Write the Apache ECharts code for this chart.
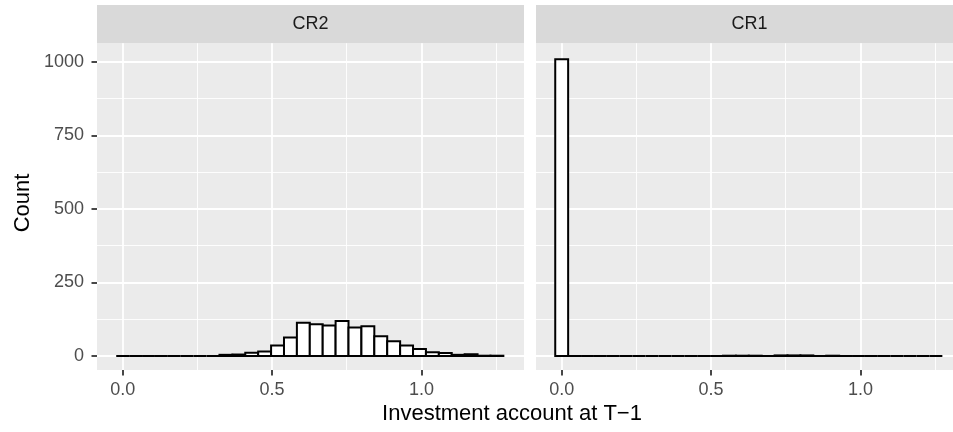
<!DOCTYPE html>
<html>
<head>
<meta charset="utf-8">
<script src="https://cdn.jsdelivr.net/npm/echarts@6/dist/echarts.min.js"></script>
<style>
html,body{margin:0;padding:0;background:#fff;}
#chart{width:953px;height:432px;}
</style>
</head>
<body>
<div id="chart"></div>
<script>
// ---- data ----
var panelNames = ["CR2", "CR1"];
var binCenters = [0.0000, 0.0432, 0.0864, 0.1296, 0.1728, 0.2160, 0.2592, 0.3024, 0.3456, 0.3888,
                  0.4320, 0.4752, 0.5184, 0.5616, 0.6048, 0.6480, 0.6912, 0.7344, 0.7776, 0.8208,
                  0.8640, 0.9072, 0.9504, 0.9936, 1.0368, 1.0800, 1.1232, 1.1664, 1.2096, 1.2528];
var binWidth = 0.0432;
var countsCR2 = [0, 0, 0, 0, 0, 0, 0, 0, 4, 5,
                 11, 15, 36, 63, 113, 108, 104, 119, 97, 101,
                 67, 50, 36, 24, 13, 10, 4, 6, 1, 1];
var countsCR1 = [1008, 0, 0, 0, 0, 0, 0, 0, 0, 0,
                 0, 0, 0, 1, 1, 1, 0, 2, 2, 2,
                 0, 1, 0, 0, 0, 0, 0, 0, 0, 0];
var xTickValues = [0, 0.5, 1.0];
var xTickLabels = ["0.0", "0.5", "1.0"];
var yTickValues = [0, 250, 500, 750, 1000];
var yTickLabels = ["0", "250", "500", "750", "1000"];
var xTitle = "Investment account at T\u22121";
var yTitle = "Count";

// ---- layout ----
var FONT = "'Liberation Sans', Arial, Helvetica, sans-serif";
var panelTop = 43.3, panelH = 326.7, panelW = 427;
var panelLefts = [97, 536];
var stripTop = 5, stripH = 38.3;
var xMin = -0.086, xMax = 1.3435;
var yMin = -47.57, yMax = 1062.5;
var pxPerX = panelW / (xMax - xMin);
var pxPerY = panelH / (yMax - yMin);
var y0px = panelTop + (yMax - 0) * pxPerY;      // pixel of count 0
var y1000px = panelTop + (yMax - 1000) * pxPerY;

function pairs(counts) {
  return binCenters.map(function (c, i) { return [c, counts[i]]; });
}

function renderBar(params, api) {
  var c = api.value(0), n = api.value(1);
  var p0 = api.coord([c - binWidth / 2, n]);
  var p1 = api.coord([c + binWidth / 2, 0]);
  return {
    type: 'rect',
    shape: { x: p0[0], y: p0[1], width: p1[0] - p0[0], height: p1[1] - p0[1] },
    style: { fill: '#ffffff', stroke: '#000000', lineWidth: 2 }
  };
}

var grids = [], xAxes = [], yAxes = [], series = [], graphics = [];
function hiddenAxis(gi, mn, mx) {
  return { type: 'value', gridIndex: gi, min: mn, max: mx, show: false };
}

panelLefts.forEach(function (left, p) {
  var x0px = left + (0 - xMin) * pxPerX;
  // background & strip
  graphics.push({ type: 'rect', z: -10, shape: { x: left, y: panelTop, width: panelW, height: panelH }, style: { fill: '#EBEBEB' } });
  graphics.push({ type: 'rect', z: -10, shape: { x: left, y: stripTop, width: panelW, height: stripH }, style: { fill: '#D9D9D9' } });
  graphics.push({ type: 'text', z: 5, x: left + panelW / 2, y: stripTop + stripH / 2,
    style: { text: panelNames[p], fill: '#1A1A1A', font: '18px ' + FONT, align: 'center', verticalAlign: 'middle' } });

  // data grid
  var gData = grids.length;
  grids.push({ left: left, top: panelTop, width: panelW, height: panelH, outerBoundsMode: 'none', containLabel: false });
  xAxes.push(hiddenAxis(gData, xMin, xMax));
  yAxes.push(hiddenAxis(gData, yMin, yMax));
  series.push({ type: 'custom', xAxisIndex: gData, yAxisIndex: gData, z: 3, silent: true,
    renderItem: renderBar, data: pairs(p === 0 ? countsCR2 : countsCR1) });

  // y gridlines (+labels on left panel)
  var gY = grids.length;
  grids.push({ left: left, top: y1000px, width: panelW, height: y0px - y1000px, outerBoundsMode: 'none', containLabel: false });
  xAxes.push(hiddenAxis(gY, 0, 1));
  yAxes.push({ type: 'value', gridIndex: gY, min: yTickValues[0], max: yTickValues[yTickValues.length - 1], interval: 250,
    axisLine: { show: false },
    axisTick: { show: p === 0, length: 5.5, lineStyle: { color: '#333333', width: 1.8 } },
    minorTick: { show: false, splitNumber: 2 },
    axisLabel: { show: p === 0, color: '#4D4D4D', fontSize: 18, fontFamily: FONT, margin: 13,
      formatter: function (v) { var i = yTickValues.indexOf(v); return i >= 0 ? yTickLabels[i] : ''; } },
    splitLine: { show: true, lineStyle: { color: '#FFFFFF', width: 1.8 } },
    minorSplitLine: { show: true, lineStyle: { color: '#FFFFFF', width: 0.9 } } });

  // x major gridlines + ticks + labels
  var gX = grids.length;
  grids.push({ left: x0px, top: panelTop, width: (xTickValues[2] - xTickValues[0]) * pxPerX, height: panelH, outerBoundsMode: 'none', containLabel: false });
  xAxes.push({ type: 'value', gridIndex: gX, min: xTickValues[0], max: xTickValues[2], interval: 0.5,
    axisLine: { show: false },
    axisTick: { show: true, length: 5.5, lineStyle: { color: '#333333', width: 1.8 } },
    axisLabel: { show: true, color: '#4D4D4D', fontSize: 18, fontFamily: FONT, margin: 11,
      formatter: function (v) { var i = xTickValues.indexOf(v); return i >= 0 ? xTickLabels[i] : ''; } },
    splitLine: { show: true, lineStyle: { color: '#FFFFFF', width: 1.8 } } });
  yAxes.push(hiddenAxis(gX, 0, 1));

  // x minor gridlines
  var gXm = grids.length;
  grids.push({ left: x0px + 0.25 * pxPerX, top: panelTop, width: 1.0 * pxPerX, height: panelH, outerBoundsMode: 'none', containLabel: false });
  xAxes.push({ type: 'value', gridIndex: gXm, min: 0.25, max: 1.25, interval: 0.5,
    axisLine: { show: false }, axisTick: { show: false }, axisLabel: { show: false },
    splitLine: { show: true, lineStyle: { color: '#FFFFFF', width: 0.9 } } });
  yAxes.push(hiddenAxis(gXm, 0, 1));
});

// axis titles
graphics.push({ type: 'text', x: 512, y: 414,
  style: { text: xTitle, fill: '#000000', font: '22px ' + FONT, align: 'center', verticalAlign: 'middle' } });
graphics.push({ type: 'text', x: 23, y: 203, rotation: Math.PI / 2,
  style: { text: yTitle, fill: '#000000', font: '22px ' + FONT, align: 'center', verticalAlign: 'middle' } });

var chart = echarts.init(document.getElementById('chart'), null, { renderer: 'canvas' });
chart.setOption({
  animation: false,
  backgroundColor: '#FFFFFF',
  grid: grids,
  xAxis: xAxes,
  yAxis: yAxes,
  series: series,
  graphic: { elements: graphics }
});
</script>
</body>
</html>
